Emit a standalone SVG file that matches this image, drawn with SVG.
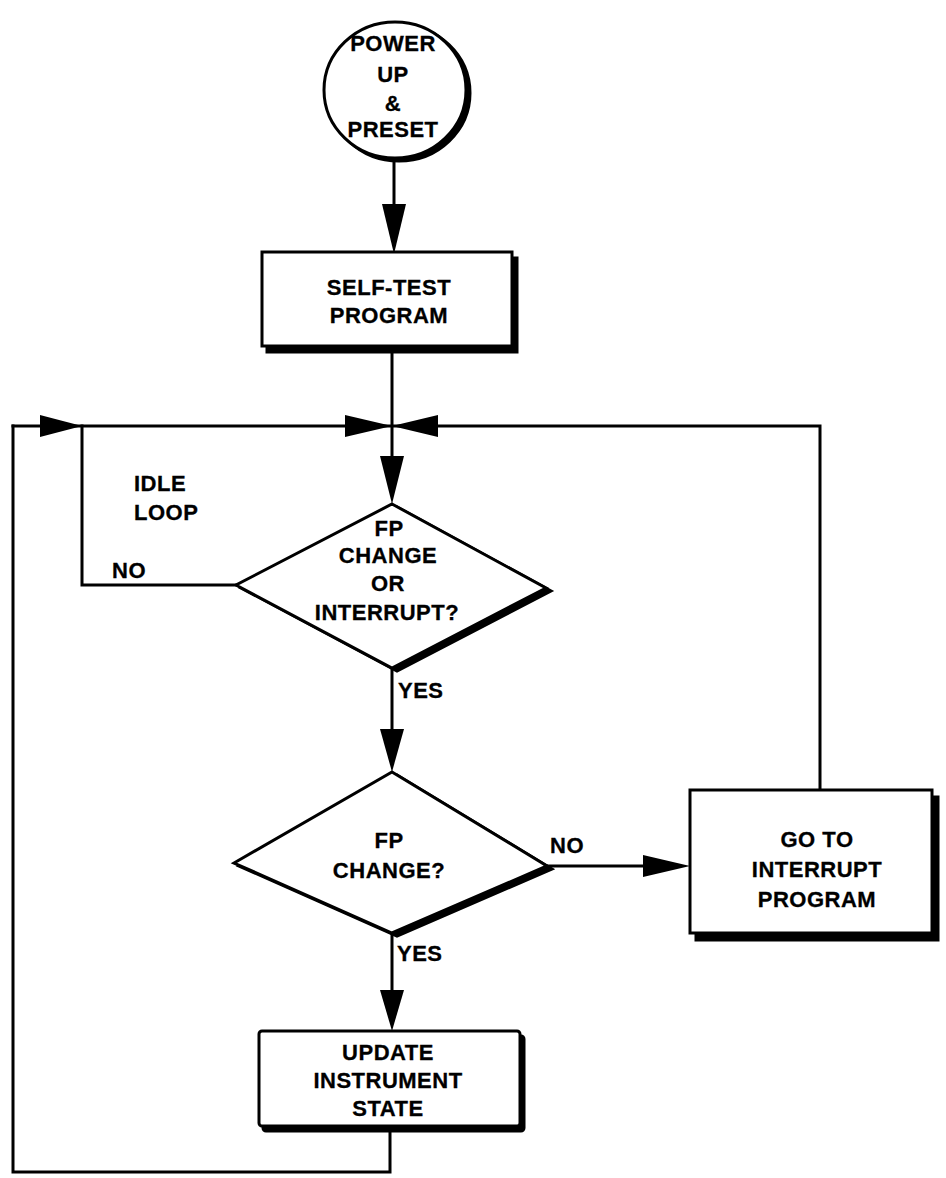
<svg xmlns="http://www.w3.org/2000/svg" width="946" height="1178" viewBox="0 0 946 1178">
<style>
.t{font-family:"Liberation Sans",Arial,sans-serif;font-weight:bold;font-size:22px;letter-spacing:0.5px;fill:#000;stroke:#000;stroke-width:0.3;text-anchor:middle}
.l{text-anchor:start}
.ln{fill:none;stroke:#000;stroke-width:3;stroke-linecap:square}
.box{fill:#fff;stroke:#000;stroke-width:3}
.sh{fill:#000;stroke:#000;stroke-width:3}
.ah{fill:#000;stroke:none}
</style>
<rect width="946" height="1178" fill="#fff"/>
<g id="connectors">
<path class="ln" d="M394,158 V225"/>
<path class="ln" d="M392,348 V470"/>
<path class="ln" d="M13,426 H820 V790"/>
<path class="ln" d="M82,426 V585 H236"/>
<path class="ln" d="M392,668 V740"/>
<path class="ln" d="M547,866 H650"/>
<path class="ln" d="M392,933 V1000"/>
<path class="ln" d="M390,1128 V1172 H13 V426"/>
<polygon class="ah" points="382,204 406,204 394,254"/>
<polygon class="ah" points="345,415 345,437 392,426"/>
<polygon class="ah" points="438,415 438,437 392,426"/>
<polygon class="ah" points="40,415 40,437 82,426"/>
<polygon class="ah" points="380,456 404,456 392,504"/>
<polygon class="ah" points="380,729 404,729 392,772"/>
<polygon class="ah" points="643,855 643,877 690,866"/>
<polygon class="ah" points="380,990 404,990 392,1031"/>
</g>
<g id="power-up">
<ellipse class="sh" cx="399" cy="93" rx="71" ry="68"/>
<ellipse class="box" cx="395" cy="90" rx="71" ry="68"/>
<text class="t" x="393" y="51">POWER</text>
<text class="t" x="393" y="82">UP</text>
<text class="t" x="393" y="111">&amp;</text>
<text class="t" x="393" y="137">PRESET</text>
</g>
<g id="self-test">
<rect class="sh" x="267" y="258" width="250" height="94"/>
<rect class="box" x="262" y="252" width="250" height="94"/>
<text class="t" x="389" y="295">SELF-TEST</text>
<text class="t" x="389" y="323">PROGRAM</text>
</g>
<g id="idle-label">
<text class="t l" x="134" y="491">IDLE</text>
<text class="t l" x="134" y="520">LOOP</text>
<text class="t l" x="112" y="578">NO</text>
</g>
<g id="decision-1">
<polygon class="sh" points="397,507 551,591 397,671 241,588"/>
<polygon class="box" points="392,504 546,588 392,668 236,585"/>
<text class="t" x="389" y="536">FP</text>
<text class="t" x="388" y="563">CHANGE</text>
<text class="t" x="388" y="591">OR</text>
<text class="t" x="387" y="620">INTERRUPT?</text>
<text class="t l" x="398" y="698">YES</text>
</g>
<g id="decision-2">
<polygon class="sh" points="397,775 552,869 397,936 239,866"/>
<polygon class="box" points="392,772 547,866 392,933 234,863"/>
<text class="t" x="389" y="848">FP</text>
<text class="t" x="389" y="878">CHANGE?</text>
<text class="t l" x="550" y="853">NO</text>
<text class="t l" x="397" y="961">YES</text>
</g>
<g id="interrupt">
<rect class="sh" x="696" y="797" width="242" height="143"/>
<rect class="box" x="690" y="790" width="242" height="143"/>
<text class="t" x="817" y="847">GO TO</text>
<text class="t" x="817" y="877">INTERRUPT</text>
<text class="t" x="817" y="907">PROGRAM</text>
</g>
<g id="update">
<rect class="sh" x="263" y="1036" width="261" height="95" rx="3"/>
<rect class="box" x="259" y="1031" width="261" height="95" rx="3"/>
<text class="t" x="388" y="1060">UPDATE</text>
<text class="t" x="388" y="1088">INSTRUMENT</text>
<text class="t" x="388" y="1116">STATE</text>
</g>
</svg>
